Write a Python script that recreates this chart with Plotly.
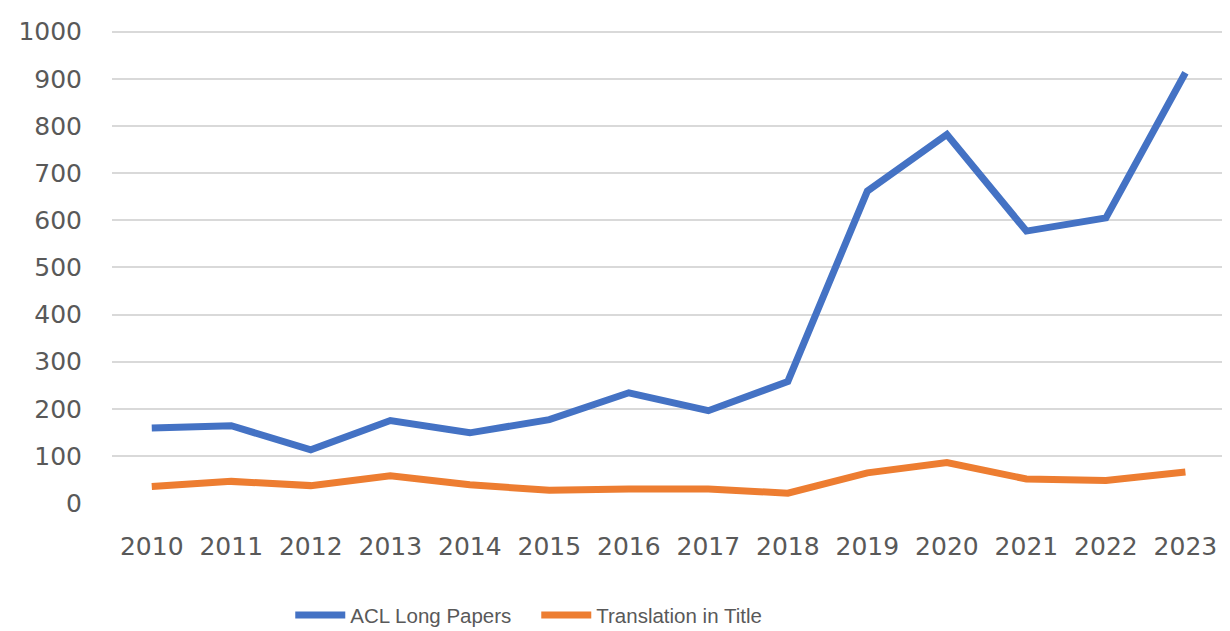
import plotly.graph_objects as go

years = [str(y) for y in range(2010, 2024)]
acl_long = [159, 164, 113, 175, 149, 177, 234, 196, 258, 662, 782, 577, 605, 913]
translation_title = [35, 46, 37, 58, 39, 27, 30, 30, 21, 64, 86, 51, 48, 66]

fig = go.Figure()
fig.add_trace(go.Scatter(x=years, y=acl_long, mode="lines", name="ACL Long Papers",
                         line=dict(color="#4472C4", width=7)))
fig.add_trace(go.Scatter(x=years, y=translation_title, mode="lines", name="Translation in Title",
                         line=dict(color="#ED7D31", width=7)))

# the page body adds an 8px margin; figure sized/offset to compensate
fig.update_layout(
    width=1214, height=623,
    margin=dict(l=104, r=0, t=19, b=127, autoexpand=False),
    paper_bgcolor="white", plot_bgcolor="white",
    font=dict(family="DejaVu Sans", size=25, color="#595959"),
    showlegend=True,
    legend=dict(orientation="h", x=0.1606, xanchor="left", y=-0.233, yanchor="middle",
                font=dict(family="Liberation Sans", size=20.5, color="#595959"),
                entrywidth=181, itemwidth=50),
    xaxis=dict(type="category", range=[-0.5, 13.46], showgrid=False, showline=False,
               zeroline=False, ticks="", ticklabelstandoff=25, automargin=False),
    yaxis=dict(range=[-2, 1010], dtick=100, showgrid=True, gridcolor="#D9D9D9", gridwidth=2,
               zeroline=False, showline=False, ticks="", ticklabelstandoff=29, automargin=False),
)
fig.write_html("out.html")
